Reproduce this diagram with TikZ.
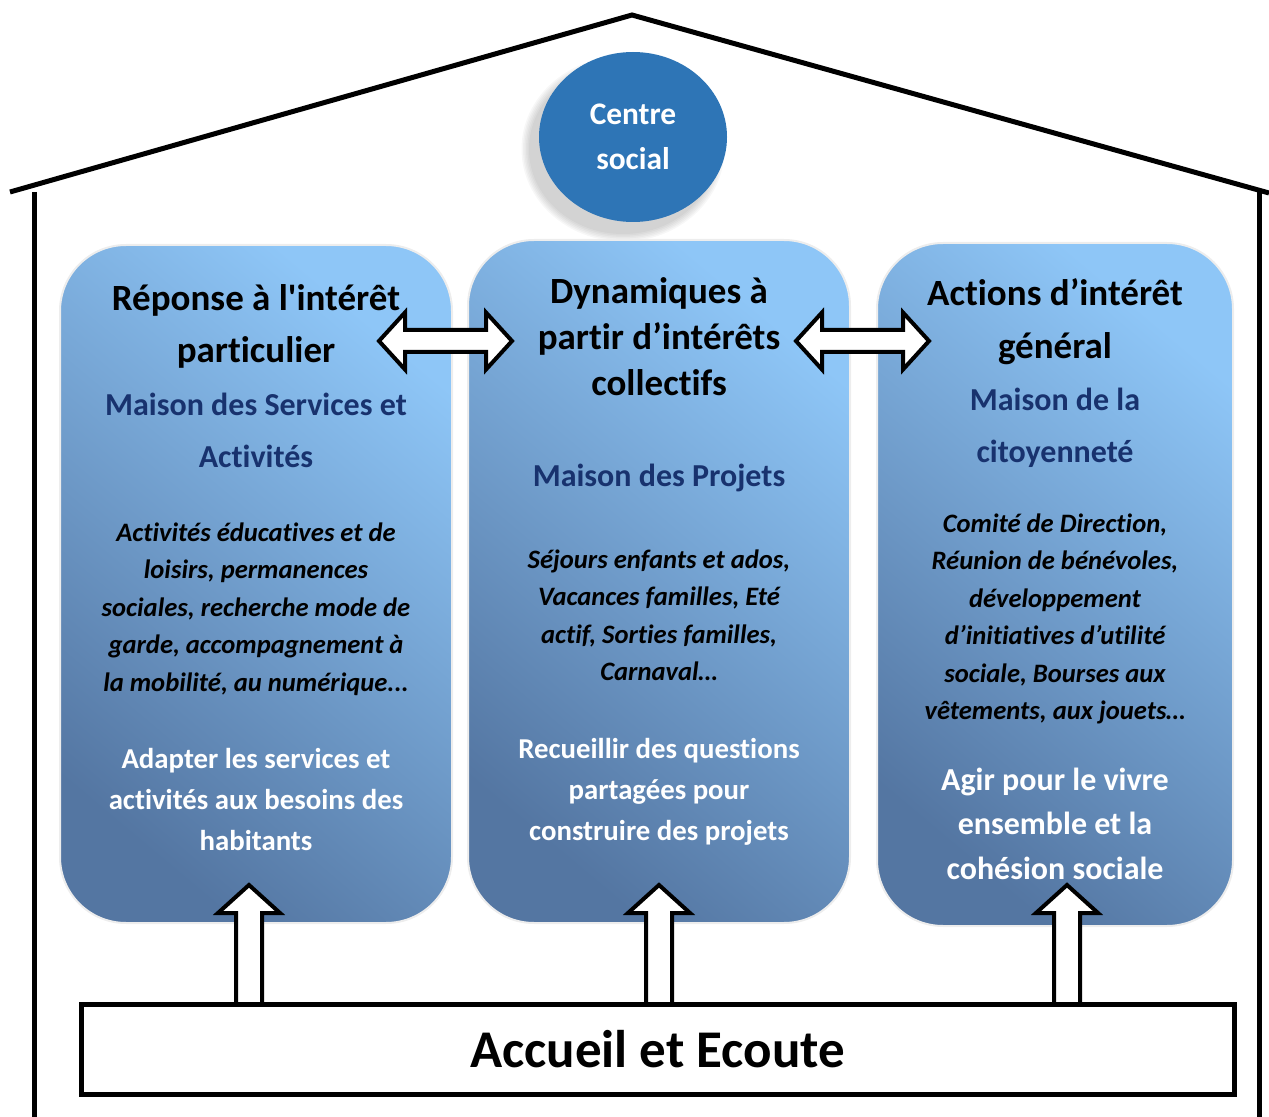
\documentclass[tikz,border=0pt]{standalone}
\usepackage{fontspec}
\setmainfont{Carlito}[Ligatures={TeX,NoCommon}]
\usetikzlibrary{positioning,calc,shapes.geometric}

\definecolor{panelTop}{RGB}{142,198,247}
\definecolor{panelBot}{RGB}{84,118,162}
\definecolor{maisonBlue}{RGB}{24,50,110}
\definecolor{centreBlue}{RGB}{46,117,182}

\begin{document}
\begin{tikzpicture}[x=0.5pt,y=-0.5pt,
    panel/.style={rectangle, rounded corners=33pt, inner sep=0pt,
      top color=panelTop, bottom color=panelBot, shading angle=-40,
      draw=black!7, line width=1pt},
    titre/.style={anchor=base, align=center, font=\bfseries\fontsize{18.5}{26}\selectfont},
    maison/.style={anchor=base, align=center, text=maisonBlue,
      font=\bfseries\fontsize{16}{26}\selectfont},
    liste/.style={anchor=base, align=center, font=\bfseries\itshape\fontsize{13.3}{18.75}\selectfont},
    but/.style={anchor=base, align=center, text=white, font=\bfseries\fontsize{14.4}{20.5}\selectfont},
    bloc/.style={draw, fill=white, line width=2pt, miter limit=10},
    mur/.style={line width=2.5pt}]

\useasboundingbox (0,0) rectangle (1269,1117);

% maison
\draw[mur] (10,192) -- (632,15) -- (1269,193);
\draw[mur] (34,192) -- (34,1117);
\draw[mur] (1259,190) -- (1259,1117);

% centre social
\foreach \r in {0,3,...,15}
  \fill[black, opacity=0.03] (623,149) ellipse [x radius=47pt+\r pt/4, y radius=42.5pt+\r pt/4];
\node[ellipse, fill=centreBlue, inner sep=0pt, minimum width=94pt, minimum height=85pt,
  text=white, align=center, font=\bfseries\fontsize{15.7}{22.5}\selectfont] (centre) at (633,137) {Centre\\social};

% les trois piliers (ancre base = derniere ligne)
\node[panel, minimum width=196pt, minimum height=339pt] (1) at (256,584) {};
\node[panel, minimum width=191pt, minimum height=341.5pt] (2) at (659,581.5) {};
\node[panel, minimum width=178pt, minimum height=341.5pt] (3) at (1055,584.5) {};

\node[titre] (t1) at (256,363) {Réponse à l\textquotesingle intérêt\\particulier};
\node[maison] (m1) at (256,467) {Maison des Services et\\Activités};
\node[liste] (l1) at (256,691) {Activités éducatives et de\\loisirs, permanences\\sociales, recherche mode de\\garde, accompagnement à\\la mobilité, au numérique...};
\node[but] (b1) at (256,850) {Adapter les services et\\activités aux besoins des\\habitants};

\node[titre, font=\bfseries\fontsize{18.5}{23}\selectfont] (t2) at (659,396) {Dynamiques à\\partir d’intérêts\\collectifs};
\node[maison] (m2) at (659,487) {Maison des Projets};
\node[liste] (l2) at (659,680.5) {Séjours enfants et ados,\\Vacances familles, Eté\\actif, Sorties familles,\\Carnaval…};
\node[but] (b2) at (659,840) {Recueillir des questions\\partagées pour\\construire des projets};

\node[titre, font=\bfseries\fontsize{18.5}{26.5}\selectfont] (t3) at (1055,359) {Actions d’intérêt\\général};
\node[maison] (m3) at (1055,463) {Maison de la\\citoyenneté};
\node[liste] (l3) at (1055,719.5) {Comité de Direction,\\Réunion de bénévoles,\\développement\\d’initiatives d’utilité\\sociale, Bourses aux\\vêtements, aux jouets…};
\node[but, font=\bfseries\fontsize{16}{22.25}\selectfont] (b3) at (1055,879) {Agir pour le vivre\\ensemble et la\\cohésion sociale};

% fleches doubles entre piliers
\coordinate (d1) at (379,341);
\coordinate (d2) at (796,341);
\foreach \d in {d1,d2}
  \draw[bloc] (\d) -- ++(26,-28.5) -- ++(0,17.5) -- ++(81,0) -- ++(0,-17.5) -- ++(26,28.5)
    -- ++(-26,28.5) -- ++(0,-17.5) -- ++(-81,0) -- ++(0,17.5) -- cycle;

% fleches montantes
\foreach \x/\n in {249/1,659/2,1067/3} {
  \coordinate (u\n) at (\x,1004);
  \draw[bloc] (u\n) ++(-13,0) -- ++(0,-91) -- ++(-18,0) -- ++(31,-28) -- ++(31,28)
    -- ++(-18,0) -- ++(0,91) -- cycle;
}

% accueil
\node[draw, fill=white, line width=2.5pt, minimum width=576.75pt, minimum height=44.75pt,
  font=\bfseries\fontsize{26.5}{30}\selectfont] (accueil) at (657.75,1049.25) {Accueil et Ecoute};

\end{tikzpicture}
\end{document}
